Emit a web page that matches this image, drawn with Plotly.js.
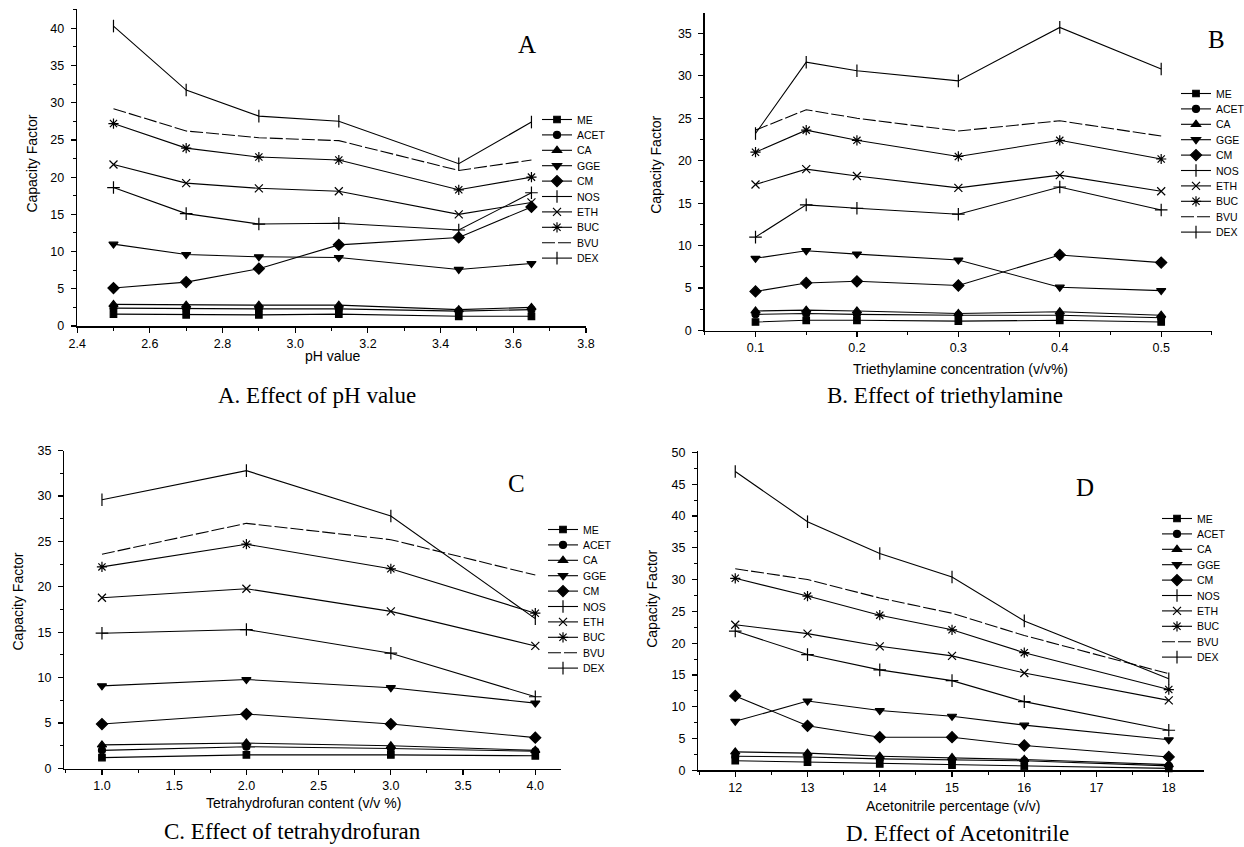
<!DOCTYPE html>
<html>
<head>
<meta charset="utf-8">
<script src="https://cdn.plot.ly/plotly-3.0.1.min.js"></script>
<style>
html,body{margin:0;padding:0;background:#fff;}
#chart{width:1244px;height:847px;}
</style>
</head>
<body>
<div id="chart"></div>
<script>
// ---------------- DATA ----------------
var seriesNames = ['ME','ACET','CA','GGE','CM','NOS','ETH','BUC','BVU','DEX'];

// A. Effect of pH value
var pH = [2.5, 2.7, 2.9, 3.12, 3.45, 3.65];
var A_ME   = [1.6, 1.5, 1.5, 1.6, 1.3, 1.3];
var A_ACET = [2.4, 2.3, 2.3, 2.3, 2.0, 2.2];
var A_CA   = [2.9, 2.8, 2.8, 2.8, 2.2, 2.5];
var A_GGE  = [11.0, 9.6, 9.3, 9.2, 7.6, 8.4];
var A_CM   = [5.1, 5.9, 7.7, 10.9, 11.9, 16.0];
var A_NOS  = [18.6, 15.1, 13.7, 13.8, 12.9, 17.9];
var A_ETH  = [21.7, 19.2, 18.5, 18.1, 15.0, 16.6];
var A_BUC  = [27.2, 23.9, 22.7, 22.3, 18.3, 20.0];
var A_BVU  = [29.2, 26.2, 25.3, 24.9, 20.9, 22.3];
var A_DEX  = [40.3, 31.7, 28.2, 27.5, 21.8, 27.4];

// B. Effect of triethylamine
var tea = [0.1, 0.15, 0.2, 0.3, 0.4, 0.5];
var B_ME   = [1.0, 1.2, 1.2, 1.1, 1.2, 1.0];
var B_ACET = [1.9, 2.0, 1.9, 1.8, 1.8, 1.5];
var B_CA   = [2.3, 2.4, 2.3, 2.0, 2.2, 1.8];
var B_GGE  = [8.5, 9.4, 9.0, 8.3, 5.1, 4.7];
var B_CM   = [4.6, 5.6, 5.8, 5.3, 8.9, 8.0];
var B_NOS  = [11.0, 14.8, 14.4, 13.7, 16.9, 14.2];
var B_ETH  = [17.2, 19.0, 18.2, 16.8, 18.3, 16.4];
var B_BUC  = [21.0, 23.6, 22.4, 20.5, 22.4, 20.2];
var B_BVU  = [23.6, 26.0, 25.0, 23.5, 24.7, 22.9];
var B_DEX  = [23.2, 31.6, 30.6, 29.4, 35.7, 30.8];

// C. Effect of tetrahydrofuran
var thf = [1.0, 2.0, 3.0, 4.0];
var C_ME   = [1.2, 1.5, 1.5, 1.4];
var C_ACET = [2.0, 2.4, 2.2, 1.9];
var C_CA   = [2.6, 2.8, 2.5, 2.0];
var C_GGE  = [9.1, 9.8, 8.9, 7.2];
var C_CM   = [4.9, 6.0, 4.9, 3.4];
var C_NOS  = [14.9, 15.3, 12.7, 7.9];
var C_ETH  = [18.8, 19.8, 17.3, 13.5];
var C_BUC  = [22.2, 24.7, 22.0, 17.1];
var C_BVU  = [23.6, 27.0, 25.2, 21.3];
var C_DEX  = [29.6, 32.8, 27.8, 16.5];

// D. Effect of Acetonitrile
var acn = [12, 13, 14, 15, 16, 18];
var D_ME   = [1.5, 1.3, 1.0, 0.8, 0.6, 0.3];
var D_ACET = [2.2, 2.1, 1.8, 1.6, 1.5, 0.7];
var D_CA   = [2.9, 2.7, 2.2, 2.0, 1.7, 0.9];
var D_GGE  = [7.7, 10.9, 9.4, 8.5, 7.1, 4.8];
var D_CM   = [11.7, 7.0, 5.2, 5.2, 3.9, 2.1];
var D_NOS  = [21.9, 18.2, 15.8, 14.1, 10.8, 6.3];
var D_ETH  = [22.9, 21.5, 19.5, 18.0, 15.3, 11.0];
var D_BUC  = [30.2, 27.4, 24.4, 22.1, 18.5, 12.7];
var D_BVU  = [31.7, 30.0, 27.1, 24.7, 21.2, 15.2];
var D_DEX  = [47.0, 39.1, 34.1, 30.4, 23.5, 14.4];

var captions = ['A. Effect of pH value', 'B. Effect of triethylamine',
                'C. Effect of tetrahydrofuran', 'D. Effect of Acetonitrile'];
var panelLetters = ['A', 'B', 'C', 'D'];
var xTitles = ['pH value', 'Triethylamine concentration (v/v%)',
               'Tetrahydrofuran content (v/v %)', 'Acetonitrile percentage (v/v)'];
var yTitle = 'Capacity Factor';

// ---------------- STYLE ----------------
var W = 1244, H = 847;
var SANS = 'Liberation Sans, Arial, sans-serif';
var SERIF = 'Liberation Serif, Times New Roman, serif';
var LEG_STEP = 15.4;
function px(x){ return x / W; }
function py(y){ return 1 - y / H; }

var styles = {
  ME:   {symbol:'square',        size:6.5},
  ACET: {symbol:'circle',        size:7},
  CA:   {symbol:'triangle-up',   size:8},
  GGE:  {symbol:'triangle-down', size:8},
  CM:   {symbol:'diamond',       size:8.5},
  NOS:  {symbol:'cross-thin',    size:9},
  ETH:  {symbol:'x-thin',        size:8},
  BUC:  {symbol:'asterisk',      size:8.5},
  BVU:  {symbol:null,            size:0},
  DEX:  {symbol:'line-ns',       size:9}
};

var panels = [
  {x: pH,  ys:[A_ME,A_ACET,A_CA,A_GGE,A_CM,A_NOS,A_ETH,A_BUC,A_BVU,A_DEX], xa:'x',  ya:'y',  leg:'legend'},
  {x: tea, ys:[B_ME,B_ACET,B_CA,B_GGE,B_CM,B_NOS,B_ETH,B_BUC,B_BVU,B_DEX], xa:'x2', ya:'y2', leg:'legend2'},
  {x: thf, ys:[C_ME,C_ACET,C_CA,C_GGE,C_CM,C_NOS,C_ETH,C_BUC,C_BVU,C_DEX], xa:'x3', ya:'y3', leg:'legend3'},
  {x: acn, ys:[D_ME,D_ACET,D_CA,D_GGE,D_CM,D_NOS,D_ETH,D_BUC,D_BVU,D_DEX], xa:'x4', ya:'y4', leg:'legend4'}
];

var traces = [];
panels.forEach(function(p){
  seriesNames.forEach(function(name, i){
    var st = styles[name];
    var t = {
      type:'scatter', x:p.x, y:p.ys[i], name:name,
      xaxis:p.xa, yaxis:p.ya, legend:p.leg,
      mode: st.symbol ? 'lines+markers' : 'lines',
      line:{color:'#000', width:1.1, dash: name === 'BVU' ? '13px,3px' : 'solid'},
      cliponaxis:false
    };
    if (st.symbol) {
      t.marker = {symbol:st.symbol, size:st.size, color:'#000', line:{color:'#000', width:1.2}};
    }
    traces.push(t);
  });
});

function xaxis(dom, range, dtick, mdtick, anchor, fmt){
  return {domain:dom, range:range, anchor:anchor, showgrid:false, zeroline:false,
    showline:true, linecolor:'#000', linewidth:1.5, ticks:'outside', ticklen:5,
    tickwidth:1.2, tickcolor:'#000', dtick:dtick, tick0:0, tickformat:fmt,
    tickfont:{family:SANS, size:12.5, color:'#000'},
    minor:{dtick:mdtick, tick0:0, ticks:'outside', ticklen:3, tickwidth:1, tickcolor:'#000', showgrid:false}};
}
function yaxis(dom, range, anchor){
  return {domain:dom, range:range, anchor:anchor, showgrid:false, zeroline:false,
    showline:true, linecolor:'#000', linewidth:1.5, ticks:'outside', ticklen:5,
    tickwidth:1.2, tickcolor:'#000', dtick:5, tick0:0, ticklabelstandoff:4,
    tickfont:{family:SANS, size:12.5, color:'#000'},
    minor:{dtick:2.5, tick0:0, ticks:'outside', ticklen:3, tickwidth:1, tickcolor:'#000', showgrid:false}};
}
function legend(leftPx, topPx){
  return {x:px(leftPx), y:py(topPx), xanchor:'left', yanchor:'top',
    bgcolor:'rgba(0,0,0,0)', borderwidth:0, itemwidth:30, tracegroupgap:0,
    font:{family:SANS, size:10.5, color:'#000'}, itemclick:false, itemdoubleclick:false};
}

var annotations = [];
function ann(text, x, y, font, angle){
  annotations.push({text:text, x:px(x), y:py(y), xref:'paper', yref:'paper',
    xanchor:'center', yanchor:'middle', showarrow:false, font:font, textangle:angle || 0});
}
var titleFont = {family:SANS, size:14, color:'#000'};
var capFont = {family:SERIF, size:23, color:'#000'};
var letterFont = {family:SERIF, size:25, color:'#000'};

// panel A
ann(panelLetters[0], 527, 44, letterFont);
ann(yTitle, 31.6, 164, titleFont, -90);
ann(xTitles[0], 332, 356, titleFont);
ann(captions[0], 317, 396, capFont);
// panel B
ann(panelLetters[1], 1216, 40, letterFont);
ann(yTitle, 655.8, 165, titleFont, -90);
ann(xTitles[1], 960.4, 369, titleFont);
ann(captions[1], 945, 396, capFont);
// panel C
ann(panelLetters[2], 516, 483, letterFont);
ann(yTitle, 17.8, 601.7, titleFont, -90);
ann(xTitles[2], 303, 802.7, titleFont);
ann(captions[2], 292, 831.7, capFont);
// panel D
ann(panelLetters[3], 1084.5, 487, letterFont);
ann(yTitle, 651.8, 599, titleFont, -90);
ann(xTitles[3], 953, 806, titleFont);
ann(captions[3], 957, 833, capFont);

var layout = {
  width:W, height:H, paper_bgcolor:'#fff', plot_bgcolor:'rgba(0,0,0,0)',
  margin:{l:0, r:0, t:0, b:0, autoexpand:false},
  showlegend:true,
  font:{family:SANS, color:'#000'},
  xaxis:  xaxis([px(77.1), px(586)],    [2.3999, 3.8001], 0.2, 0.1, 'y', '.1f'),
  yaxis:  yaxis([py(326), py(9.3)],     [0, 42.55], 'x'),
  xaxis2: xaxis([px(704.8), px(1212)],  [0.05, 0.5501], 0.1, 0.05, 'y2', '.1f'),
  yaxis2: yaxis([py(330.5), py(13.3)],  [0, 37.36], 'x2'),
  xaxis3: xaxis([px(64.4), px(561.3)],  [0.74, 4.18], 0.5, 0.25, 'y3', '.1f'),
  yaxis3: yaxis([py(768.5), py(450.5)], [0, 35.02], 'x3'),
  xaxis4: xaxis([px(698.4), px(1204.2)],[11.49, 18.49], 1, 0.5, 'y4', 'd'),
  yaxis4: yaxis([py(770.3), py(450.5)], [0, 50.3], 'x4'),
  legend:  legend(537, 105),
  legend2: legend(1176, 79),
  legend3: legend(543, 515),
  legend4: legend(1157, 504),
  annotations:annotations
};

var gd = document.getElementById('chart');
Plotly.newPlot(gd, traces, layout, {staticPlot:true, displayModeBar:false}).then(function(){
  var groups = gd.querySelectorAll('g.infolayer > g');
  groups.forEach(function(lg){
    var cls = lg.getAttribute('class') || '';
    if (!/^legend\d*$/.test(cls.trim())) return;
    var items = lg.querySelectorAll('g.traces');
    var y0 = null;
    items.forEach(function(it, i){
      var tr = it.getAttribute('transform') || '';
      var m = /translate\(\s*([-\d.e]+)[\s,]+([-\d.e]+)\s*\)/.exec(tr);
      if (!m) return;
      if (y0 === null) y0 = parseFloat(m[2]);
      it.setAttribute('transform', 'translate(' + m[1] + ',' + (y0 + i * LEG_STEP) + ')');
    });
  });
});
</script>
</body>
</html>
